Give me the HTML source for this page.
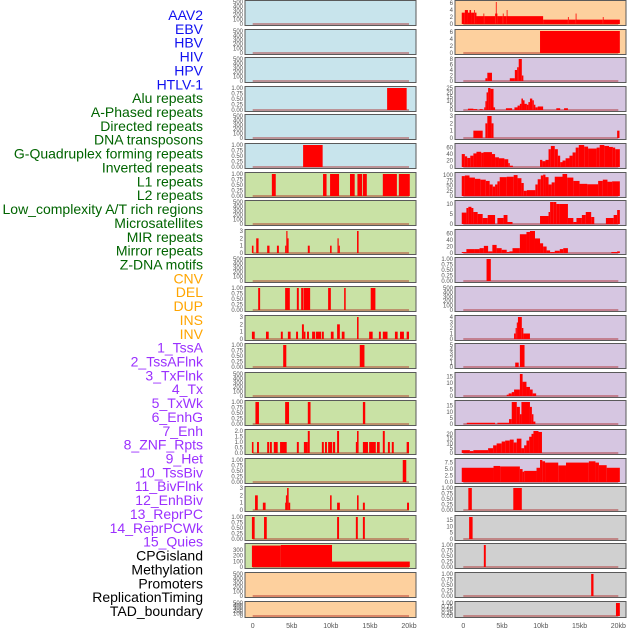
<!DOCTYPE html>
<html><head><meta charset="utf-8"><style>
body{margin:0;background:#fff;width:630px;height:630px;overflow:hidden}
svg{display:block}
</style></head><body>
<svg id="chart" width="630" height="630" xmlns="http://www.w3.org/2000/svg" font-family="Liberation Sans, sans-serif"></svg>
<script>
// ---- labels ----
const trackLabels = ["AAV2","EBV","HBV","HIV","HPV","HTLV-1","Alu repeats","A-Phased repeats","Directed repeats","DNA transposons","G-Quadruplex forming repeats","Inverted repeats","L1 repeats","L2 repeats","Low_complexity A/T rich regions","Microsatellites","MIR repeats","Mirror repeats","Z-DNA motifs","CNV","DEL","DUP","INS","INV","1_TssA","2_TssAFlnk","3_TxFlnk","4_Tx","5_TxWk","6_EnhG","7_Enh","8_ZNF_Rpts","9_Het","10_TssBiv","11_BivFlnk","12_EnhBiv","13_ReprPC","14_ReprPCWk","15_Quies","CPGisland","Methylation","Promoters","ReplicationTiming","TAD_boundary"];
const labelGroups = [6,13,5,15,5];
const groupColors = ["#1010f0","#006400","#ffa500","#9b30ff","#000000"];
const xTicks = [0,5,10,15,20];
const xTickLabels = ["0","5kb","10kb","15kb","20kb"];
// ---- y tick sets ----
const T500=[0,100,200,300,400,500], T1=[0,0.25,0.5,0.75,1], T3=[0,1,2,3];
// ---- left column data: [startKb,endKb,value] ----
const L1=[],L2=[],L3=[],L5=[],L8=[],L10=[],L14=[],L21=[],L22=[];
const L4=[[17.2,19.7,1]];
const L6=[[6.45,8.95,1]];
const L7=[[2.45,2.95,1],[9.0,9.45,1],[9.9,11.05,1],[12.45,13.05,1],[13.4,14.0,1],[14.1,14.6,1],[16.65,18.45,1],[18.7,20.1,1]];
const L9=[[-0.1,0.1,1],[0.45,0.75,2],[1.85,2.15,1],[3.1,3.35,1],[4.15,4.3,1],[4.3,4.45,3],[4.45,4.6,2],[7.05,7.3,1],[9.9,10.1,1],[10.85,11.0,2],[11.0,11.15,1],[13.35,13.55,3]];
const L11=[[0.7,0.95,1],[4.15,4.75,1],[5.65,5.9,1],[6.2,6.45,1],[6.5,7.35,1],[9.65,10.0,1],[11.7,11.9,1],[15.1,15.7,1]];
const L12=[[-0.1,0.26,1],[1.7,2.05,1],[3.6,3.85,1],[4.5,4.85,1],[5.55,5.8,1],[6.3,6.55,2],[6.55,6.75,1],[6.95,7.2,1],[7.6,8.0,1],[8.1,8.75,1],[8.85,9.1,1],[10.0,10.35,1],[10.8,11.15,2],[11.4,11.75,1],[13.35,13.55,3],[14.9,15.35,1],[16.15,16.4,1],[16.65,17.25,1],[18.2,18.55,1],[18.85,19.35,1],[19.7,20.0,1]];
const L13=[[3.9,4.3,1],[13.7,14.3,1]];
const L15=[[0.35,0.8,1],[4.15,4.65,1],[7.05,7.4,1],[14.1,14.4,1]];
const L16=[[-0.1,0.1,1],[0.55,0.8,1],[1.85,2.1,1],[2.2,2.45,1],[2.7,3.2,1],[3.5,4.35,1],[5.65,5.9,1],[6.55,7.05,1],[7.05,7.3,2],[8.85,9.1,1],[9.25,9.5,1],[9.65,10.15,1],[10.25,10.55,1],[10.8,11.05,2],[13.2,13.35,1],[13.35,13.55,2],[14.1,14.75,1],[14.9,15.75,1],[15.9,16.25,1],[16.65,16.9,2],[17.3,17.55,1],[17.8,18.05,1],[19.7,20.0,1]];
const L17=[[19.2,19.65,1]];
const L18=[[0.3,0.65,2],[1.3,1.65,1],[4.15,4.25,1],[4.25,4.4,2],[4.4,4.6,3],[4.6,4.8,1],[9.9,10.1,2],[10.8,11.15,1],[13.35,13.55,2],[14.1,14.35,1],[19.75,20.0,1]];
const L19=[[-0.1,0.25,1],[1.45,1.8,1],[10.8,11.05,1],[13.2,13.45,1],[14.1,14.35,1]];
const L20=[[-0.1,3.6,375],[3.6,10.15,385],[10.15,20.1,95]];
// ---- right column data ----
const R1=[[-0.2,0.2,3.25],[0.2,0.6,4],[0.6,0.8,3.25],[0.8,1.0,4],[1.0,1.4,3.25],[1.4,1.5,4],[1.5,1.7,3.25],[1.7,2.6,2.25],[2.6,2.7,3],[2.7,4.1,2.25],[4.1,4.2,3],[4.2,4.25,6.3],[4.25,4.4,3],[4.4,5.1,2.25],[5.1,5.2,3],[5.2,5.6,2.25],[5.6,5.7,4],[5.7,10.3,2.25],[10.3,13.5,1.25],[13.5,13.6,2],[13.6,14.5,1.25],[14.5,14.6,3],[14.6,18.0,1.25],[18.0,18.1,2],[18.1,20.2,1.25]];
const R2=[[9.9,20.2,6.3]];
const R3=[[2.85,3.1,1],[3.1,3.7,3],[6.0,6.65,1],[6.65,6.95,4],[6.95,7.15,5],[7.15,7.55,8],[7.55,7.75,2]];
const R4=[[0.6,1.3,1.5],[1.3,1.8,1],[2.1,2.5,1],[2.7,2.85,3],[2.85,3.0,10],[3.0,3.2,20],[3.2,3.5,25],[3.5,3.9,24],[3.9,4.1,3],[5.5,6.3,2],[6.6,7.0,3],[7.0,7.3,5],[7.3,7.5,7],[7.5,7.7,13],[7.7,7.9,11],[7.9,8.2,7],[8.2,8.4,6],[8.4,8.6,9],[8.6,8.9,13],[8.9,9.1,11],[9.1,9.3,6],[9.3,9.6,3],[9.6,10.3,4],[12.0,12.5,2],[13.0,13.5,2]];
const R5=[[1.3,2.5,1],[2.85,3.1,2],[3.1,3.65,3],[3.65,3.9,2],[19.85,20.15,1]];
const R6=[[-0.2,0.2,40],[0.2,0.5,33],[0.5,0.9,28],[0.9,1.3,35],[1.3,1.7,42],[1.7,2.3,47],[2.3,2.6,44],[2.6,3.7,46],[3.7,4.1,40],[4.1,4.6,30],[4.6,5.3,27],[5.3,5.8,24],[5.8,6.0,12],[6.0,6.4,4],[9.9,10.2,22],[10.2,10.6,18],[10.6,11.0,22],[11.0,11.3,55],[11.3,11.8,65],[11.8,12.2,55],[12.2,12.5,35],[12.5,12.8,15],[12.8,13.2,20],[13.2,13.7,27],[13.7,14.1,35],[14.1,14.5,45],[14.5,14.9,60],[14.9,15.6,68],[15.6,16.1,63],[16.1,17.2,57],[17.2,17.6,60],[17.6,18.2,68],[18.2,18.8,65],[18.8,19.3,62],[19.3,19.6,60],[19.6,20.2,55]];
const R7=[[-0.2,0.2,95],[0.2,0.8,98],[0.8,1.5,88],[1.5,2.2,82],[2.2,2.9,78],[2.9,3.4,72],[3.4,3.8,55],[3.8,4.1,45],[4.1,4.4,55],[4.4,4.7,70],[4.7,5.6,90],[5.6,6.5,92],[6.5,7.0,100],[7.0,7.5,85],[7.5,7.8,62],[7.8,8.2,25],[8.2,9.3,28],[9.3,9.6,55],[9.6,10.0,80],[10.0,10.3,98],[10.3,10.6,102],[10.6,11.0,90],[11.0,11.4,55],[11.4,11.8,65],[11.8,12.8,92],[12.8,13.4,105],[13.4,14.2,88],[14.2,15.0,72],[15.0,16.0,58],[16.0,17.4,56],[17.4,18.0,72],[18.0,18.6,78],[18.6,19.2,68],[19.2,20.2,70]];
const R8=[[-0.2,0.4,5.7],[0.4,0.65,8],[0.65,1.05,8.6],[1.05,1.3,8],[1.3,1.85,6],[1.85,2.5,5],[2.5,3.15,3],[3.15,4.1,4.5],[4.4,5.2,3],[5.2,5.7,4.5],[5.7,6.35,1],[9.9,11.0,4],[11.0,11.2,6],[11.2,11.6,14],[11.6,12.0,13],[12.0,12.4,10],[12.4,13.5,10],[13.5,14.2,3],[14.2,14.6,1],[14.6,15.3,3],[15.3,15.8,4.5],[15.8,16.5,6],[16.5,16.9,3.5],[18.4,19.4,3],[19.4,19.85,4.5],[19.85,20.2,7]];
const R9=[[-0.2,0.4,3],[0.4,1.5,12],[1.5,2.1,12],[2.1,2.65,15],[2.65,3.2,22],[3.2,3.75,5],[3.75,4.3,25],[4.3,4.95,15],[4.95,5.6,10],[5.6,5.95,3],[5.95,6.35,5],[6.35,7.3,15],[7.3,8.15,58],[8.15,8.6,65],[8.6,9.25,68],[9.25,9.9,45],[9.9,10.3,30],[10.3,10.75,20],[10.75,11.2,8],[11.2,11.8,3],[11.8,12.45,7],[12.45,12.9,12],[12.9,13.5,15],[19.1,19.85,3],[19.85,20.2,5]];
const R10=[[3.0,3.55,1]];
const R11=[];
const R12=[[6.55,6.75,1],[6.75,6.9,2],[6.9,7.05,3],[7.05,7.55,4],[7.55,7.75,2],[7.75,8.6,1]];
const R13=[[6.7,7.15,1],[7.3,7.9,5]];
const R14=[[5.6,5.85,1],[5.85,6.25,2],[6.25,6.55,3],[6.55,7.3,5],[7.3,7.65,20],[7.65,8.15,11],[8.15,8.6,7],[8.6,8.95,5],[8.95,9.4,2]];
const R15=[[0.45,4.1,1],[4.4,5.9,1],[5.9,6.25,4],[6.25,6.9,18],[6.9,7.3,14],[7.3,7.5,8],[7.5,8.6,18],[8.6,8.85,14],[8.85,9.05,8],[9.05,9.3,2]];
const R16=[[-0.2,0.85,3],[0.85,1.3,2],[1.3,3.2,3],[3.2,3.85,5],[3.85,4.3,8],[4.3,4.95,10],[4.95,5.4,12],[5.4,6.0,13],[6.0,6.5,14],[6.5,6.9,11],[6.9,7.5,15],[7.5,7.85,5],[7.85,8.15,8],[8.15,8.5,13],[8.5,8.8,17],[8.8,9.05,20],[9.05,9.7,23],[9.7,10.15,22]];
const R17=[[-0.2,3.9,5.5],[3.9,4.75,6.2],[4.75,7.3,6],[7.3,7.65,5],[7.65,7.85,4],[7.85,9.45,4.3],[9.45,9.9,5.5],[9.9,10.2,9.3],[10.2,10.55,8],[10.55,12.25,7.5],[12.25,13.25,6.4],[13.25,16.2,7.5],[16.2,17.05,8],[17.05,17.5,7.5],[17.5,18.5,6.5],[18.5,20.2,5.5]];
const R18=[[0.65,1.1,1],[6.45,7.55,1]];
const R19=[[0.75,1.2,17.5]];
const R20=[[2.65,2.9,1]];
const R21=[[16.5,16.8,1]];
const R22=[[19.7,20.2,1]];

const leftData=[L1,L2,L3,L4,L5,L6,L7,L8,L9,L10,L11,L12,L13,L14,L15,L16,L17,L18,L19,L20,L21,L22];
const rightData=[R1,R2,R3,R4,R5,R6,R7,R8,R9,R10,R11,R12,R13,R14,R15,R16,R17,R18,R19,R20,R21,R22];
const leftTicks=[T500,T500,T500,T1,T500,T1,T1,T500,T3,T500,T1,T3,T1,T500,T1,[0,0.5,1,1.5,2],T1,T3,T1,[0,100,200,300],T500,T500];
const rightTicks=[[0,2,4,6],[0,2,4,6],[0,2,4,6,8],[0,5,10,15,20,25],T3,[0,20,40,60],[0,25,50,75,100],[0,5,10],[0,20,40,60],T1,T500,[0,1,2,3,4],[0,1,2,3,4,5],[0,5,10,15],[0,5,10,15],[0,5,10,15,20],[0,2.5,5,7.5],T1,[0,5,10,15],T1,T1,T1];
const leftMax=[500,500,500,1,500,1,1,500,3,500,1,3,1,500,1,2,1,3,1,385,500,500];
const rightMax=[6.3,6.3,8,25,3,68,105,11,68,1,500,4,5,17,18,23,8.5,1,17.5,1,1,1];
const BG={b:"#c8e4ec",g:"#c9e2a5",o:"#fdd09e",p:"#d6c6e1",k:"#d0d0d0"};
const leftBg="bbbbbbggggggggggggggooo".slice(0,22).split("");
const rightBg="oopppppppppppppppkkkkk".split("");

const NS="http://www.w3.org/2000/svg";
const svg=document.getElementById('chart');
function mk(tag,attrs,parent){const e=document.createElementNS(NS,tag);for(const k in attrs)e.setAttribute(k,attrs[k]);(parent||svg).appendChild(e);return e;}
function decs(v){const s=String(v);const i=s.indexOf('.');return i<0?0:s.length-i-1;}

// labels
let li=0;
labelGroups.forEach((n,g)=>{for(let j=0;j<n;j++){const y=15+li*13.86;
 const t=mk('text',{x:203,y:y+5,'text-anchor':'end','font-size':'14',fill:groupColors[g]});
 t.textContent=trackLabels[li];
 
 
 li++;}});

function drawColumn(col,data,ticks,maxes,bgs,px0,px1,zx,zx20){
 const xs=kb=>zx+kb*(zx20-zx)/20;
 for(let i=0;i<22;i++){
  const top=Math.round(i*28.6)+0.5, h=(i===21?16:25);
  const g=mk('g',{});
  
  
  mk('rect',{x:px0,y:top,width:px1-px0,height:h,fill:BG[bgs[i]]},g);
  const y0=top+h-1.5, yt=top+1.5, ymax=maxes[i];
  const ys=v=>y0-Math.min(v,ymax)/ymax*(y0-yt);
  mk('line',{x1:xs(0),x2:xs(20),y1:y0,y2:y0,stroke:'rgba(170,30,30,0.55)','stroke-width':1.5},g);
  data[i].forEach(s=>{
   const r=mk('rect',{x:xs(s[0]),y:ys(s[2]),width:Math.max(0.8,xs(s[1])-xs(s[0])),height:y0-ys(s[2]),fill:'#ff0000'},g);
   
   
  });
  mk('rect',{x:px0,y:top,width:px1-px0,height:h,fill:'none',stroke:'#5a5a5a','stroke-width':1},g);
  const nd=Math.max(...ticks[i].map(decs));
  ticks[i].forEach(v=>{
   const t=mk('text',{x:px0-2,y:ys(v)+2,'text-anchor':'end','font-size':'6',fill:'#555'},g);
   t.textContent=v.toFixed(nd);
   
   
  });
 }
 xTicks.forEach((v,k)=>{
  const t=mk('text',{x:xs(v),y:628,'text-anchor':'middle','font-size':'7',fill:'#555'});
  t.textContent=xTickLabels[k];
  
  
 });
}
drawColumn('left',leftData,leftTicks,leftMax,leftBg,245,416,252.7,409);
drawColumn('right',rightData,rightTicks,rightMax,rightBg,455,626,463.3,618.3);
</script>
</body></html>
